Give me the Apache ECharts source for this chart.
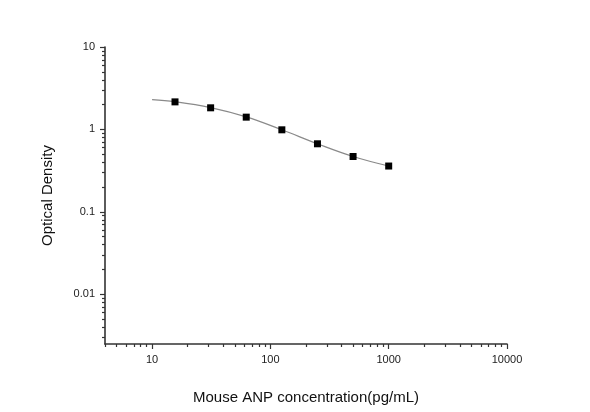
<!DOCTYPE html>
<html>
<head>
<meta charset="utf-8">
<script src="https://cdn.jsdelivr.net/npm/echarts@6/dist/echarts.min.js"></script>
<style>
  html, body { margin: 0; padding: 0; background: #fff; }
  #chart { width: 590px; height: 412px; }
</style>
</head>
<body>
<div id="chart"></div>
<script>
// standard curve points
const concentration = [15.625, 31.25, 62.5, 125, 250, 500, 1000];
const density = [2.16, 1.83, 1.41, 0.99, 0.67, 0.47, 0.36];

// fitted line, starts at 10 and passes through the standards
const fitX = [10, 15.625, 31.25, 62.5, 125, 250, 500, 1000];
const fitY = [2.30, 2.17, 1.84, 1.42, 0.99, 0.67, 0.47, 0.36];

const xMajor = [10, 100, 1000, 10000];
const xMinor = [4, 5, 6, 7, 8, 9, 20, 30, 40, 50, 60, 70, 80, 90,
    200, 300, 400, 500, 600, 700, 800, 900, 2000, 3000, 4000, 5000, 6000, 7000, 8000, 9000];
const yMajor = [0.01, 0.1, 1, 10];
const yMinor = [0.003, 0.004, 0.005, 0.006, 0.007, 0.008, 0.009,
    0.02, 0.03, 0.04, 0.05, 0.06, 0.07, 0.08, 0.09,
    0.2, 0.3, 0.4, 0.5, 0.6, 0.7, 0.8, 0.9,
    2, 3, 4, 5, 6, 7, 8, 9];

const xMin = 4, xMax = 10000;
const yMin = 0.0025, yMax = 10;

const font = 'Liberation Sans, Arial, sans-serif';
const axisColor = '#333';

var chart = echarts.init(document.getElementById('chart'));

function label(v) {
    return String(v);
}

var option = {
    animation: false,
    grid: {
        left: 105,
        right: 83,
        top: 47,
        bottom: 68
    },
    xAxis: [
        {
            type: 'log',
            logBase: 10,
            min: xMin,
            max: xMax,
            name: 'Mouse ANP concentration(pg/mL)',
            nameLocation: 'middle',
            nameGap: 46,
            nameTextStyle: { fontFamily: font, fontSize: 15, color: '#111' },
            axisLine: { lineStyle: { color: axisColor, width: 1.6 } },
            axisTick: { customValues: xMajor, length: 5, lineStyle: { color: axisColor, width: 1.2 } },
            axisLabel: {
                customValues: xMajor,
                formatter: label,
                margin: 10,
                fontFamily: font,
                fontSize: 11,
                color: '#222'
            },
            splitLine: { show: false },
            minorTick: { show: false }
        },
        {
            type: 'log',
            logBase: 10,
            min: xMin,
            max: xMax,
            position: 'bottom',
            axisLine: { show: false },
            axisTick: { customValues: xMinor, length: 3, lineStyle: { color: axisColor, width: 1.2 } },
            axisLabel: { show: false },
            splitLine: { show: false }
        }
    ],
    yAxis: [
        {
            type: 'log',
            logBase: 10,
            min: yMin,
            max: yMax,
            name: 'Optical Density',
            nameLocation: 'middle',
            nameGap: 50,
            nameTextStyle: { fontFamily: font, fontSize: 15, color: '#111' },
            axisLine: { lineStyle: { color: axisColor, width: 1.6 } },
            axisTick: { customValues: yMajor, length: 5, lineStyle: { color: axisColor, width: 1.2 } },
            axisLabel: {
                customValues: yMajor,
                formatter: label,
                margin: 10,
                fontFamily: font,
                fontSize: 11,
                color: '#222'
            },
            splitLine: { show: false },
            minorTick: { show: false }
        },
        {
            type: 'log',
            logBase: 10,
            min: yMin,
            max: yMax,
            position: 'left',
            axisLine: { show: false },
            axisTick: { customValues: yMinor, length: 3, lineStyle: { color: axisColor, width: 1.2 } },
            axisLabel: { show: false },
            splitLine: { show: false }
        }
    ],
    series: [
        {
            name: 'fit',
            type: 'line',
            smooth: 0.4,
            showSymbol: false,
            data: fitX.map((x, i) => [x, fitY[i]]),
            lineStyle: { color: '#8a8a8a', width: 1.2 },
            z: 1,
            silent: true
        },
        {
            name: 'standards',
            type: 'scatter',
            symbol: 'rect',
            symbolSize: 7,
            data: concentration.map((x, i) => [x, density[i]]),
            itemStyle: { color: '#000', opacity: 1 },
            z: 3
        }
    ]
};

chart.setOption(option);
</script>
</body>
</html>
